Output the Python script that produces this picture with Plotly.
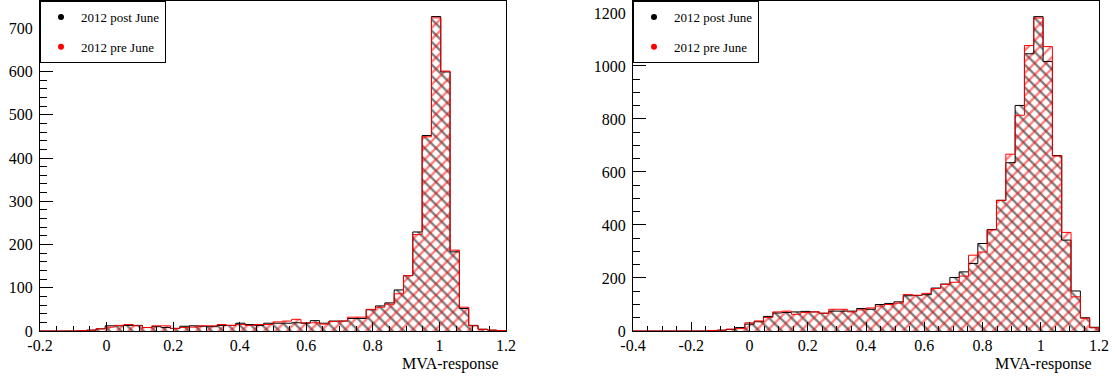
import numpy as np
import plotly.graph_objects as go

# ---------------- data ----------------
# Left panel: 50 bins from -0.2 to 1.2
left_range = (-0.2, 1.2)
left_post_june = [0, 0, 0, 0, 1, 2, 5, 12, 12, 13,
                  13, 8, 10, 8, 6, 11, 12, 11, 10, 13,
                  13, 18, 15, 13, 18, 18, 18, 19, 18, 24,
                  18, 23, 23, 29, 29, 49, 58, 65, 95, 128,
                  229, 452, 727, 599, 183, 52, 13, 4, 2, 1]
left_pre_june = [0, 0, 0, 0, 1, 2, 5, 9, 13, 15,
                 12, 8, 12, 12, 6, 8, 9, 12, 12, 15,
                 13, 15, 13, 15, 15, 21, 23, 27, 19, 19,
                 16, 22, 23, 32, 32, 50, 55, 62, 86, 128,
                 223, 449, 724, 601, 187, 55, 12, 4, 2, 1]

# Right panel: 50 bins from -0.4 to 1.2
right_range = (-0.4, 1.2)
right_post_june = [0, 0, 0, 0, 0, 0, 0, 0, 1, 3,
                   6, 13, 26, 35, 55, 68, 70, 72, 74, 72,
                   67, 75, 75, 75, 85, 82, 100, 104, 110, 133,
                   134, 137, 162, 177, 202, 223, 255, 330, 383, 493,
                   635, 851, 1046, 1186, 1017, 662, 343, 151, 50, 14]
right_pre_june = [0, 0, 0, 0, 0, 0, 0, 0, 2, 3,
                  7, 9, 31, 38, 51, 72, 75, 63, 70, 72,
                  67, 82, 82, 72, 80, 87, 94, 100, 105, 138,
                  135, 142, 160, 176, 184, 207, 286, 298, 381, 493,
                  667, 814, 1077, 1181, 1073, 660, 372, 129, 48, 12]

series_names = ["2012 post June", "2012 pre June"]
series_colors = ["black", "red"]
series_hatch = ["\\", "/"]

left_xticks = [-0.2, 0, 0.2, 0.4, 0.6, 0.8, 1, 1.2]
left_xticktext = ["-0.2", "0", "0.2", "0.4", "0.6", "0.8", "1", "1.2"]
right_xticks = [-0.4, -0.2, 0, 0.2, 0.4, 0.6, 0.8, 1, 1.2]
right_xticktext = ["-0.4", "-0.2", "0", "0.2", "0.4", "0.6", "0.8", "1", "1.2"]
left_yticks = [0, 100, 200, 300, 400, 500, 600, 700]
right_yticks = [0, 200, 400, 600, 800, 1000, 1200]
axis_title = "MVA-response"

FONT = "Liberation Serif"

fig = go.Figure()


def add_panel(rng, series, xa, ya, legend_name):
    nb = len(series[0])
    edges = np.linspace(rng[0], rng[1], nb + 1)
    centers = 0.5 * (edges[:-1] + edges[1:])
    width = edges[1] - edges[0]
    # hatched fills
    for vals, col, hatch in zip(series, series_colors, series_hatch):
        fig.add_trace(go.Bar(
            x=centers, y=vals, width=width, xaxis=xa, yaxis=ya,
            marker=dict(color="rgba(0,0,0,0)", line=dict(width=0),
                        pattern=dict(shape=hatch, fgcolor=col,
                                     bgcolor="rgba(0,0,0,0)",
                                     size=8, solidity=0.3)),
            showlegend=False, hoverinfo="skip"))
    # step outlines
    for vals, col in zip(series, series_colors):
        sx = [edges[0]] + list(edges[:-1]) + [edges[-1]]
        sy = [0] + list(vals) + [0]
        fig.add_trace(go.Scatter(
            x=sx, y=sy, mode="lines", line=dict(color=col, width=1, shape="hv"),
            xaxis=xa, yaxis=ya, showlegend=False, hoverinfo="skip"))
    # legend entries
    for i, (name, col) in enumerate(zip(series_names, series_colors)):
        fig.add_trace(go.Scatter(
            x=[None], y=[None], mode="markers", name=name,
            marker=dict(color=col, size=6), xaxis=xa, yaxis=ya,
            legend=legend_name, legendgroup=legend_name + str(i)))


add_panel(left_range, [left_post_june, left_pre_june], "x", "y", "legend")
add_panel(right_range, [right_post_june, right_pre_june], "x2", "y2", "legend2")

W, H = 1115, 378
ml, mr, mt, mb = 40, 16, 1, 47
pw = W - ml - mr
d1 = [0.0, 466 / pw]
d2 = [593 / pw, 1.0]

tickfont = dict(family=FONT, size=16, color="black")

xcommon = dict(showline=True, linecolor="black", linewidth=1, mirror=True,
               ticks="inside", ticklen=9, tickcolor="black", tickwidth=1,
               showgrid=False, zeroline=False, tickfont=tickfont,
               minor=dict(dtick=0.05, ticks="inside", ticklen=5,
                          tickcolor="black", showgrid=False))
ycommon = dict(showline=True, linecolor="black", linewidth=1, mirror=True,
               ticks="inside", ticklen=13, tickcolor="black", tickwidth=1,
               showgrid=False, zeroline=False, tickfont=tickfont,
               ticklabelstandoff=3)

fig.update_layout(
    width=W, height=H,
    margin=dict(l=ml, r=mr, t=mt, b=mb),
    paper_bgcolor="white", plot_bgcolor="white",
    barmode="overlay", bargap=0,
    font=dict(family=FONT, color="black"),
    xaxis=dict(domain=d1, range=list(left_range), tickvals=left_xticks,
               ticktext=left_xticktext, anchor="y", **xcommon),
    yaxis=dict(domain=[0, 1], range=[0, 763], tickvals=left_yticks,
               anchor="x", minor=dict(dtick=20, ticks="inside", ticklen=7,
                                      tickcolor="black", showgrid=False),
               **ycommon),
    xaxis2=dict(domain=d2, range=list(right_range), tickvals=right_xticks,
                ticktext=right_xticktext, anchor="y2", **xcommon),
    yaxis2=dict(domain=[0, 1], range=[0, 1245], tickvals=right_yticks,
                anchor="x2", minor=dict(dtick=50, ticks="inside", ticklen=7,
                                        tickcolor="black", showgrid=False),
                **ycommon),
    legend=dict(x=d1[0], y=1, xanchor="left", yanchor="top",
                bgcolor="white", bordercolor="black", borderwidth=1,
                font=dict(family=FONT, size=13, color="black"),
                tracegroupgap=10, itemwidth=30),
    legend2=dict(x=d2[0], y=1, xanchor="left", yanchor="top",
                 bgcolor="white", bordercolor="black", borderwidth=1,
                 font=dict(family=FONT, size=13, color="black"),
                 tracegroupgap=10, itemwidth=30),
    annotations=[
        dict(text=axis_title, xref="x", yref="paper", x=left_range[1], y=0,
             xanchor="right", yanchor="top", yshift=-22, xshift=-5,
             showarrow=False, font=dict(family=FONT, size=16, color="black")),
        dict(text=axis_title, xref="x2", yref="paper", x=right_range[1], y=0,
             xanchor="right", yanchor="top", yshift=-22, xshift=-5,
             showarrow=False, font=dict(family=FONT, size=16, color="black")),
    ],
)

fig.write_html("out.html")
